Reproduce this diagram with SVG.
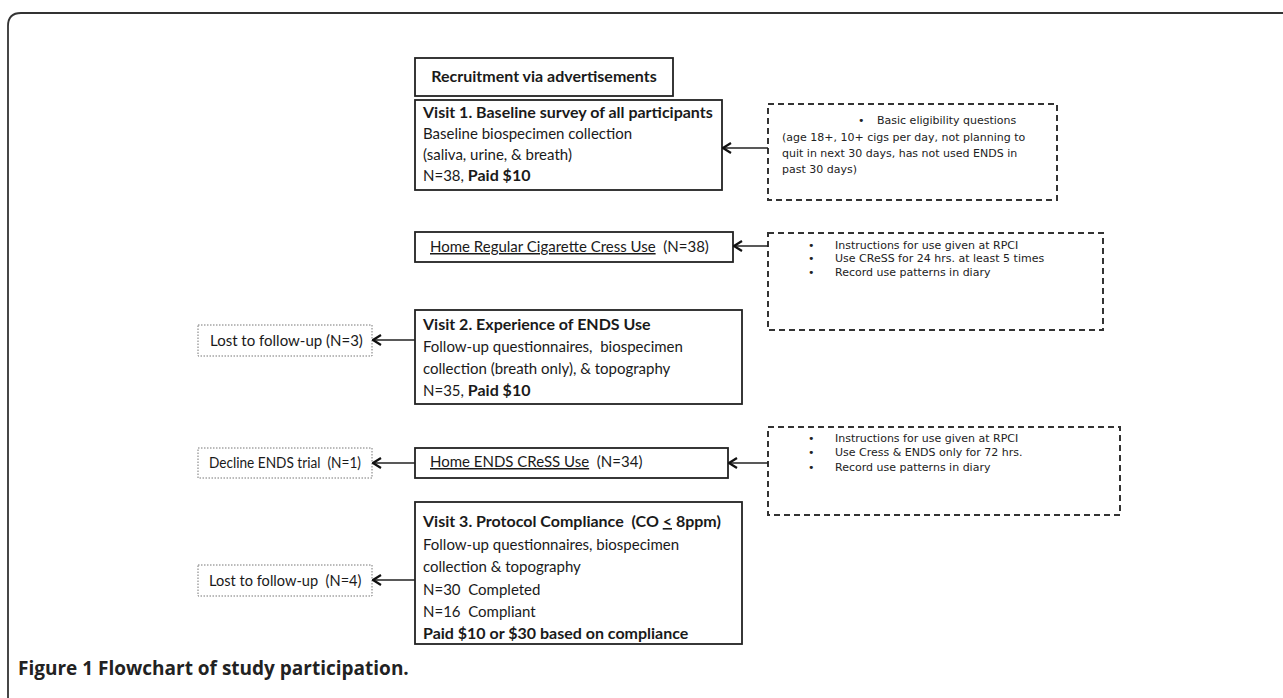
<svg xmlns="http://www.w3.org/2000/svg" width="1283" height="698" viewBox="0 0 1283 698">
<style>
.box{fill:#fff;stroke:#222;stroke-width:1.8}
.dash{fill:none;stroke:#333;stroke-width:2;stroke-dasharray:6 4}
.dot{fill:#fff;stroke:#777;stroke-width:1;stroke-dasharray:1.5 1.5}
.t{font-family:Lato,"Liberation Sans",sans-serif;font-size:15px;fill:#1a1a1a;white-space:pre}
.b{font-weight:bold;font-size:16px}
.sm{font-size:14.6px}
.s{font-family:"DejaVu Sans","Liberation Sans",sans-serif;font-size:11px;fill:#222}
.con{fill:none;stroke:#222;stroke-width:1.6}
</style>
<defs>
<marker id="arr" viewBox="0 0 10 12" refX="9" refY="6" markerWidth="10" markerHeight="12" markerUnits="userSpaceOnUse" orient="auto">
<path d="M1,1 L9,6 L1,11" fill="none" stroke="#111" stroke-width="2.2"/>
</marker>
</defs>
<rect x="0" y="0" width="1283" height="698" fill="#fff"/>
<path d="M8,698 V26 Q8,13 21,13 H1283" fill="none" stroke="#333" stroke-width="1.8"/>

<g id="recruit">
<rect class="box" x="415" y="58" width="258" height="38"/>
<text class="t b" x="544" y="82" text-anchor="middle">Recruitment via advertisements</text>
</g>

<g id="visit1">
<rect class="box" x="415" y="100" width="307" height="90"/>
<text class="t b" x="423" y="118">Visit 1. Baseline survey of all participants</text>
<text class="t" x="423" y="139">Baseline biospecimen collection</text>
<text class="t" x="423" y="160">(saliva, urine, &amp; breath)</text>
<text class="t" x="423" y="181">N=38, <tspan class="b">Paid $10</tspan></text>
</g>

<g id="elig">
<rect class="dash" x="768" y="104" width="289" height="96"/>
<text class="s" x="858" y="124">•</text>
<text class="s" x="877" y="124">Basic eligibility questions</text>
<text class="s" x="782" y="141">(age 18+, 10+ cigs per day, not planning to</text>
<text class="s" x="782" y="157">quit in next 30 days, has not used ENDS in</text>
<text class="s" x="782" y="173">past 30 days)</text>
</g>

<g id="homereg">
<rect class="box" x="415" y="232" width="318" height="30"/>
<text class="t" x="430" y="252"><tspan text-decoration="underline">Home Regular Cigarette Cress Use</tspan>  (N=38)</text>
</g>

<g id="instr1">
<rect class="dash" x="768" y="233" width="335" height="97"/>
<text class="s" x="808" y="249">•</text>
<text class="s" x="835" y="249">Instructions for use given at RPCI</text>
<text class="s" x="808" y="262">•</text>
<text class="s" x="835" y="262">Use CReSS for 24 hrs. at least 5 times</text>
<text class="s" x="808" y="276">•</text>
<text class="s" x="835" y="276">Record use patterns in diary</text>
</g>

<g id="lost3">
<rect class="dot" x="198" y="325" width="174" height="31"/>
<text class="t" x="210" y="346">Lost to follow-up (N=3)</text>
</g>

<g id="visit2">
<rect class="box" x="415" y="310" width="327" height="94"/>
<text class="t b" x="423" y="330">Visit 2. Experience of ENDS Use</text>
<text class="t" x="423" y="352">Follow-up questionnaires,  biospecimen</text>
<text class="t" x="423" y="374">collection (breath only), &amp; topography</text>
<text class="t" x="423" y="396">N=35, <tspan class="b">Paid $10</tspan></text>
</g>

<g id="decline">
<rect class="dot" x="198" y="448" width="174" height="30"/>
<text class="t sm" x="209" y="468" textLength="152" lengthAdjust="spacingAndGlyphs">Decline ENDS trial  (N=1)</text>
</g>

<g id="homeends">
<rect class="box" x="415" y="448" width="313" height="30"/>
<text class="t" x="430" y="467"><tspan text-decoration="underline">Home ENDS CReSS Use</tspan>  (N=34)</text>
</g>

<g id="instr2">
<rect class="dash" x="768" y="427" width="352" height="88"/>
<text class="s" x="808" y="442">•</text>
<text class="s" x="835" y="442">Instructions for use given at RPCI</text>
<text class="s" x="808" y="456">•</text>
<text class="s" x="835" y="456">Use Cress &amp; ENDS only for 72 hrs.</text>
<text class="s" x="808" y="471">•</text>
<text class="s" x="835" y="471">Record use patterns in diary</text>
</g>

<g id="lost4">
<rect class="dot" x="198" y="565" width="174" height="31"/>
<text class="t sm" x="209" y="586">Lost to follow-up  (N=4)</text>
</g>

<g id="visit3">
<rect class="box" x="415" y="502" width="327" height="142"/>
<text class="t b" x="423" y="527">Visit 3. Protocol Compliance  (CO <tspan text-decoration="underline">&lt;</tspan> 8ppm)</text>
<text class="t" x="423" y="550">Follow-up questionnaires, biospecimen</text>
<text class="t" x="423" y="572">collection &amp; topography</text>
<text class="t" x="423" y="595">N=30  Completed</text>
<text class="t" x="423" y="617">N=16  Compliant</text>
<text class="t b" x="423" y="639">Paid $10 or $30 based on compliance</text>
</g>

<g id="connectors">
<line class="con" x1="768" y1="148" x2="723" y2="148" marker-end="url(#arr)"/>
<line class="con" x1="768" y1="246" x2="734" y2="246" marker-end="url(#arr)"/>
<line class="con" x1="415" y1="340" x2="373" y2="340" marker-end="url(#arr)"/>
<line class="con" x1="768" y1="463" x2="729" y2="463" marker-end="url(#arr)"/>
<line class="con" x1="415" y1="463" x2="373" y2="463" marker-end="url(#arr)"/>
<line class="con" x1="415" y1="580" x2="373" y2="580" marker-end="url(#arr)"/>
</g>

<text x="18" y="675" font-family="'Open Sans','Noto Sans',sans-serif" font-size="19" font-weight="bold" fill="#222">Figure 1 Flowchart of study participation.</text>
</svg>
